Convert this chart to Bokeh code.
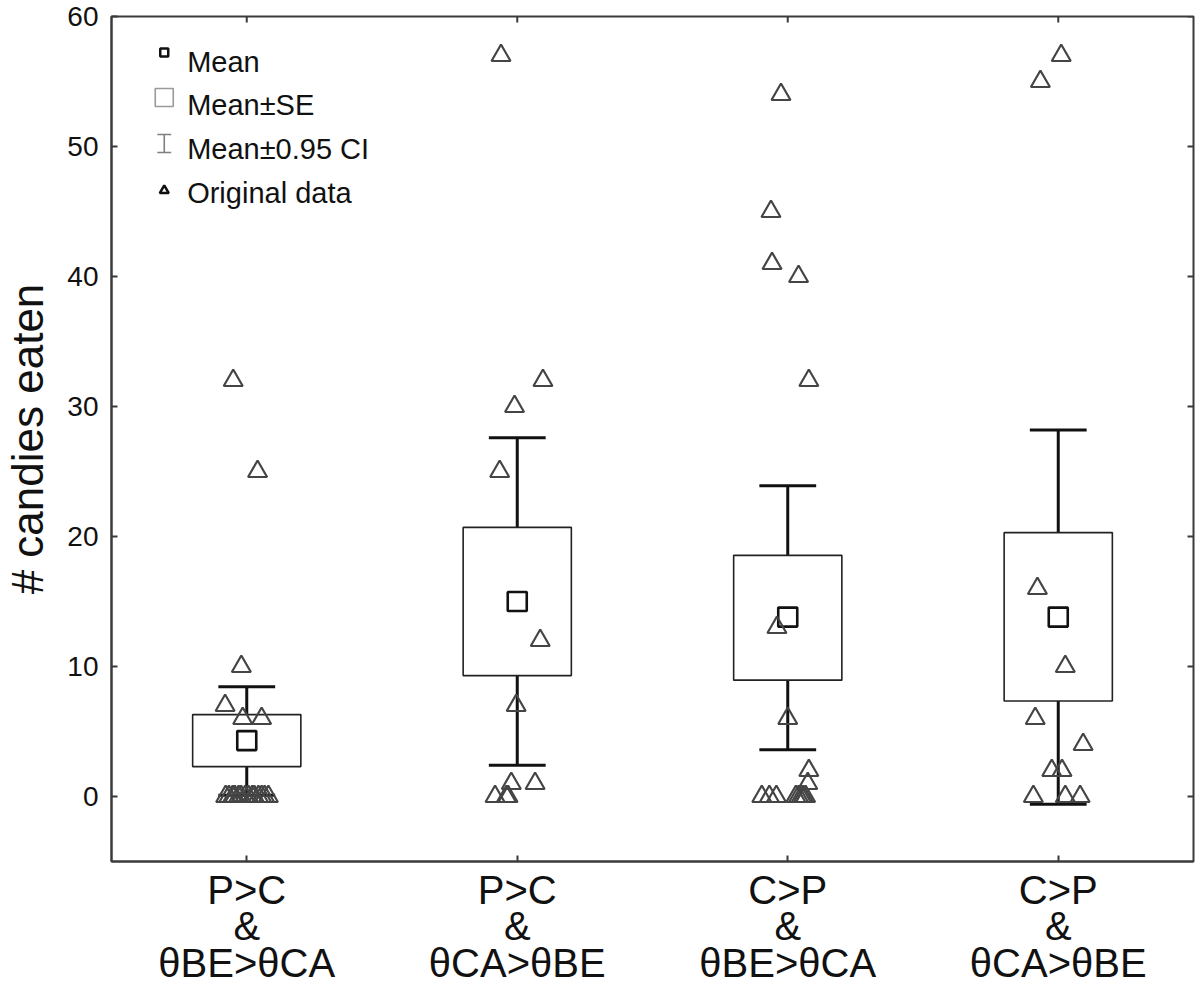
from bokeh.plotting import figure
from bokeh.models import Range1d, FixedTicker, ColumnDataSource
from bokeh.core.properties import value
from bokeh.embed import file_html
from bokeh.resources import INLINE

# ---------------- data ----------------
groups = [1, 2, 3, 4]
group_labels = ["P>C\n&\nθBE>θCA", "P>C\n&\nθCA>θBE", "C>P\n&\nθBE>θCA", "C>P\n&\nθCA>θBE"]
y_ticks = [0, 10, 20, 30, 40, 50, 60]

means = [4.3, 15.0, 13.8, 13.8]
se_low = [2.3, 9.3, 8.95, 7.35]
se_high = [6.3, 20.7, 18.55, 20.3]
ci_low = [0.1, 2.4, 3.6, -0.6]
ci_high = [8.45, 27.6, 23.9, 28.2]

g1_values = [32, 25, 10, 7, 6, 6, 0, 0, 0, 0, 0, 0, 0, 0, 0, 0, 0, 0, 0, 0]
g1_jitter = [-0.05, 0.04, -0.02, -0.08, -0.015, 0.055,
             -0.078, -0.066, -0.052, -0.044, -0.03, -0.021, -0.006, 0.006,
             0.02, 0.028, 0.043, 0.055, 0.066, 0.08]

g2_values = [57, 32, 30, 25, 12, 7, 1, 1, 0, 0, 0]
g2_jitter = [-0.06, 0.095, -0.01, -0.065, 0.085, -0.004, -0.022, 0.066, -0.082, -0.04, -0.034]

g3_values = [54, 45, 41, 40, 32, 13, 6, 2, 1, 0, 0, 0, 0, 0, 0, 0, 0]
g3_jitter = [-0.025, -0.062, -0.058, 0.04, 0.078, -0.04, 0.0, 0.078, 0.074,
             -0.096, -0.068, -0.042, 0.03, 0.04, 0.05, 0.058, 0.066]

g4_values = [57, 55, 16, 10, 6, 4, 2, 2, 0, 0, 0]
g4_jitter = [0.011, -0.066, -0.077, 0.026, -0.085, 0.092, -0.024, 0.014, -0.092, 0.026, 0.081]

legend_labels = ["Mean", "Mean±SE", "Mean±0.95 CI", "Original data"]

# ---------------- layout constants ----------------
X0, X1 = 0.5, 4.5
Y0, Y1 = -5, 60
FRAME_W, FRAME_H = 1087, 845
FONT = "Liberation Sans"
BOX_W = 0.40
CAP_W = 0.21
AXIS_COLOR = "#3a3a3a"


def fx(px):
    return X0 + px * (X1 - X0) / FRAME_W


def fy(py):
    return Y1 - py * (Y1 - Y0) / FRAME_H


p = figure(width=1200, height=988,
           x_range=Range1d(X0, X1), y_range=Range1d(Y0, Y1),
           output_backend="svg", toolbar_location=None,
           min_border_left=106, min_border_top=16, min_border_right=7, min_border_bottom=127,
           background_fill_color="white", border_fill_color="white")
p.grid.visible = False
p.outline_line_color = AXIS_COLOR
p.outline_line_width = 2

# x axis (bottom)
xa = p.xaxis[0]
xa.ticker = FixedTicker(ticks=groups)
xa.major_label_overrides = {g: lab for g, lab in zip(groups, group_labels)}
xa.major_label_text_font = FONT
xa.major_label_text_font_size = "40px"
xa.major_label_text_color = "#111111"
xa.major_label_text_line_height = 0.84
xa.major_label_standoff = 6
xa.major_tick_in = 6
xa.major_tick_out = 0
xa.minor_tick_line_color = None
xa.axis_line_color = AXIS_COLOR
xa.axis_line_width = 2
xa.major_tick_line_color = AXIS_COLOR
xa.major_tick_line_width = 2

# y axis (left)
ya = p.yaxis[0]
ya.ticker = FixedTicker(ticks=y_ticks)
ya.major_label_text_font = FONT
ya.major_label_text_font_size = "28px"
ya.major_label_text_color = "#111111"
ya.major_label_standoff = 13
ya.major_tick_in = 6
ya.major_tick_out = 0
ya.minor_tick_line_color = None
ya.axis_line_color = AXIS_COLOR
ya.axis_line_width = 2
ya.major_tick_line_color = AXIS_COLOR
ya.major_tick_line_width = 2
ya.axis_label = "# candies eaten"
ya.axis_label_text_font = FONT
ya.axis_label_text_font_size = "44px"
ya.axis_label_text_font_style = "normal"
ya.axis_label_text_color = "#111111"
ya.axis_label_standoff = 12

# mirrored tick marks on top and right edges
tick_dx = 6 * (X1 - X0) / FRAME_W
tick_dy = 6 * (Y1 - Y0) / FRAME_H
p.segment(x0=groups, y0=[Y1] * len(groups), x1=groups, y1=[Y1 - tick_dy] * len(groups),
          line_color=AXIS_COLOR, line_width=2)
p.segment(x0=[X1] * len(y_ticks), y0=y_ticks, x1=[X1 - tick_dx] * len(y_ticks), y1=y_ticks,
          line_color=AXIS_COLOR, line_width=2)

# ---------------- stats glyphs ----------------
stats = ColumnDataSource(dict(
    x=groups, mean=means, se_low=se_low, se_high=se_high, ci_low=ci_low, ci_high=ci_high,
    left=[g - BOX_W / 2 for g in groups], rightb=[g + BOX_W / 2 for g in groups],
    cl=[g - CAP_W / 2 for g in groups], cr=[g + CAP_W / 2 for g in groups],
))
p.segment(x0="x", y0="ci_low", x1="x", y1="ci_high", source=stats, line_color="#111111", line_width=3)
p.segment(x0="cl", y0="ci_low", x1="cr", y1="ci_low", source=stats, line_color="#111111", line_width=3)
p.segment(x0="cl", y0="ci_high", x1="cr", y1="ci_high", source=stats, line_color="#111111", line_width=3)
p.quad(left="left", right="rightb", bottom="se_low", top="se_high", source=stats,
       fill_color="white", line_color="#222222", line_width=1.6)
p.scatter(x="x", y="mean", source=stats, marker="square", size=19,
          fill_color="white", line_color="#111111", line_width=2.6)

# ---------------- original data ----------------
all_vals = [g1_values, g2_values, g3_values, g4_values]
all_jit = [g1_jitter, g2_jitter, g3_jitter, g4_jitter]
px, py = [], []
for g, vals, jit in zip(groups, all_vals, all_jit):
    for v, j in zip(vals, jit):
        px.append(g + j)
        py.append(v)
p.scatter(x=px, y=py, marker="triangle", size=19, fill_alpha=0,
          line_color="#454545", line_width=2.2)

# ---------------- legend (manual) ----------------
mx = fx(53)
tx = fx(76)
text_rows = [45, 88, 132, 176]
p.scatter(x=[mx], y=[fy(36)], marker="square", size=8, fill_color="white",
          line_color="#111111", line_width=2.5)
p.scatter(x=[mx], y=[fy(81)], marker="square", size=18, fill_alpha=0,
          line_color="#9a9a9a", line_width=1.6)
ib_top, ib_bot, ib_half = fy(118), fy(136), fx(53 + 7) - mx
p.segment(x0=[mx, mx - ib_half, mx - ib_half], y0=[ib_bot, ib_top, ib_bot],
          x1=[mx, mx + ib_half, mx + ib_half], y1=[ib_top, ib_top, ib_bot],
          line_color="#808080", line_width=1.6)
p.scatter(x=[mx], y=[fy(174)], marker="triangle", size=9, fill_alpha=0,
          line_color="#111111", line_width=2.5)
p.text(x=[tx] * 4, y=[fy(r) for r in text_rows], text=legend_labels,
       text_font=value(FONT), text_font_size="29px", text_color="#111111",
       text_baseline="middle", text_align="left")

open("out.html", "w").write(file_html(p, INLINE))
